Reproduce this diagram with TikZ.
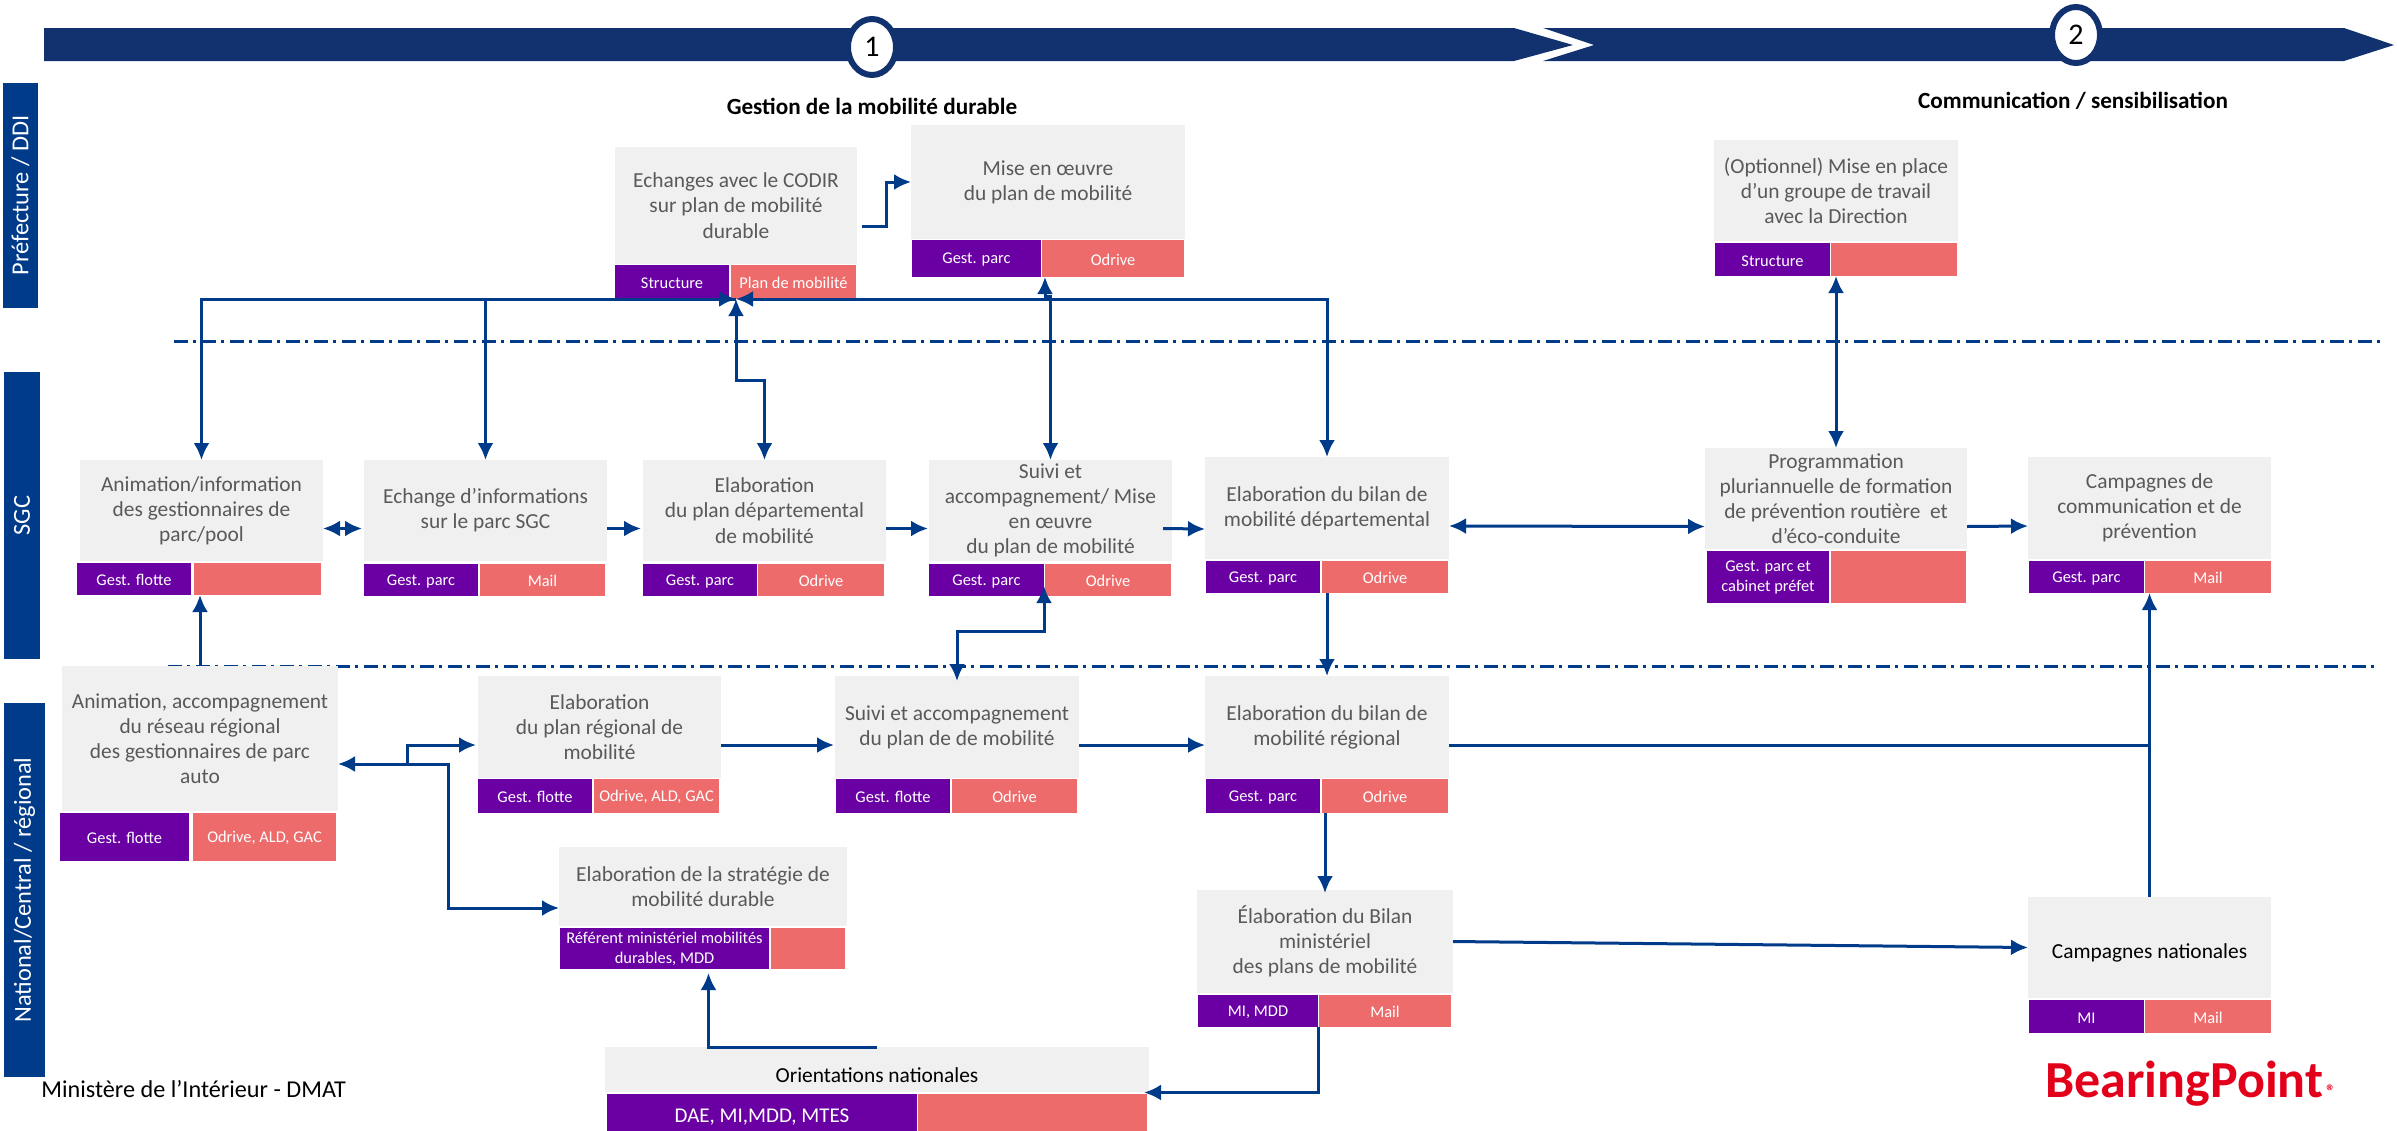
\documentclass[tikz,border=0pt]{standalone}
\usepackage{fontspec}
\setmainfont{Carlito}
\usepackage{xcolor}
\usetikzlibrary{arrows.meta,shapes.geometric}
\definecolor{marine}{HTML}{12326F}
\definecolor{bleulien}{HTML}{003B8A}
\definecolor{grisboite}{HTML}{F0F0F0}
\definecolor{gristexte}{HTML}{595959}
\definecolor{violet}{HTML}{6A00A3}
\definecolor{corail}{HTML}{EE6B6B}
\definecolor{rougelogo}{HTML}{E2001A}
\newcommand{\grandcorps}{\fontsize{10.5}{12.5}\selectfont}
\tikzset{
  taille/.style 2 args={minimum width=#1*0.5pt,minimum height=#2*0.5pt},
  boite/.style={anchor=north west,fill=grisboite,text=gristexte,align=center,inner sep=0,outer sep=0,font=\fontsize{10.7}{12.6}\selectfont,execute at begin node={\rule{0pt}{13pt}}},
  gestion/.style={anchor=north west,fill=violet,text=white,align=center,inner sep=0,outer sep=0,font=\fontsize{8.2}{10}\selectfont,execute at begin node={\rule{0pt}{6.8pt}}},
  outil/.style={gestion,fill=corail},
  colonne/.style={fill=bleulien,text=white,rotate=90,inner sep=0,outer sep=0,font=\fontsize{12.2}{14}\selectfont},
  etape/.style={ellipse,draw=marine,line width=3pt,fill=white,inner sep=0,outer sep=0,font=\fontsize{15}{17}\selectfont},
  titre/.style={font=\fontsize{11.6}{13}\selectfont\bfseries,text=black,inner sep=0},
  lien/.style={line width=1.5pt,bleulien},
  tete/.style={-{Latex[length=8.5pt,width=8pt]}},
  tetes/.style={{Latex[length=8.5pt,width=8pt]}-{Latex[length=8.5pt,width=8pt]}},
  limite/.style={line width=1.5pt,bleulien,dash pattern=on 7pt off 2.5pt on 1.5pt off 3pt}
}
\begin{document}
\begin{tikzpicture}[x=0.5pt,y=-0.5pt]
\useasboundingbox (0,0) rectangle (2397,1130);

% Bandeau
\fill[marine] (44,28) -- (1514,28) -- (1573,45) -- (1514,61) -- (44,61) -- cycle;
\fill[marine] (1543,28) -- (2344,28) -- (2394,45) -- (2344,61) -- (1543,61) -- (1594,45) -- cycle;
\node[etape,taille={48}{56}] (etape1) at (872,47) {1};
\node[etape,taille={48}{56}] (etape2) at (2076,35) {2};
\node[titre] (titre1) at (872,106) {Gestion de la mobilité durable};
\node[titre] (titre2) at (2073,101) {Communication / sensibilisation};

% Colonnes
\node[colonne,taille={225}{35}] (prefecture) at (20.5,195.5) {Préfecture / DDI};
\node[colonne,taille={287}{36}] (sgc) at (22,515.5) {SGC};
\node[colonne,taille={374}{41}] (national) at (24.5,890) {National/Central / régional};

% Limites
\draw[limite] (174,341) -- (2384,341);
\draw[limite] (168,666) -- (2375,666);

% Boites
\node[boite,taille={242}{117}] (echanges) at (615,147) {Echanges avec le CODIR\\sur plan de mobilité\\durable};
\node[boite,taille={274}{114}] (mise) at (911,125) {Mise en œuvre\\du plan de mobilité};
\node[boite,taille={243}{101}] (animinfo) at (80,460) {Animation/information\\des gestionnaires de\\parc/pool};
\node[boite,taille={243}{101}] (echinfo) at (364,460) {Echange d’informations\\sur le parc SGC};
\node[boite,taille={243}{101}] (elabdep) at (643,460) {Elaboration\\du plan départemental\\de mobilité};
\node[boite,taille={243}{101}] (suivi) at (929,460) {Suivi et\\accompagnement/ Mise\\en œuvre\\du plan de mobilité};
\node[boite,taille={244}{102}] (bilandep) at (1205,457) {Elaboration du bilan de\\mobilité départemental};
\node[boite,taille={244}{101}] (opt) at (1714,140) {(Optionnel) Mise en place\\d’un groupe de travail\\avec la Direction};
\node[boite,taille={262}{101}] (prog) at (1705,448) {Programmation\\pluriannuelle de formation\\de prévention routière~ et\\d’éco-conduite};
\node[boite,taille={243}{102}] (campagnes) at (2028,457) {Campagnes de\\communication et de\\prévention};
\node[boite,taille={276}{145}] (anim) at (62,666) {Animation, accompagnement\\du réseau régional\\des gestionnaires de parc\\auto};
\node[boite,taille={243}{102}] (regional) at (478,676) {Elaboration\\du plan régional de\\mobilité};
\node[boite,taille={244}{102}] (suiviacc) at (835,676) {Suivi et accompagnement\\du plan de de mobilité};
\node[boite,taille={288}{79}] (strat) at (559,847) {Elaboration de la stratégie de\\mobilité durable};
\node[boite,taille={544}{45},text=black] (orient) at (605,1047) {Orientations nationales};
\node[boite,taille={244}{102}] (bilanreg) at (1205,676) {Elaboration du bilan de\\mobilité régional};
\node[boite,taille={256}{103}] (bilanmin) at (1197,890) {Élaboration du Bilan\\ministériel\\des plans de mobilité};
\node[boite,taille={243}{101},text=black] (campnat) at (2028,897) {Campagnes nationales};

% Cases gestionnaire
\foreach \nom/\x/\y/\l/\h/\txt in {
  echanges/615/265/114/33.5/Structure,
  mise/912/240/129/37/Gest. parc,
  animinfo/77/563/114/32/Gest. flotte,
  echinfo/364/563.5/114/32.5/Gest. parc,
  elabdep/643/563.5/114/32.5/Gest. parc,
  suivi/929/563.5/115/32.5/Gest. parc,
  bilandep/1206/561/114/32/Gest. parc,
  opt/1715/243/115/33/Structure,
  prog/1707/551/122/52/{Gest. parc et\\cabinet préfet},
  campagnes/2029/561/115/32/Gest. parc,
  anim/60/813/129/48/Gest. flotte,
  regional/478/779/114/34/Gest. flotte,
  suiviacc/836/779/114/34/Gest. flotte,
  strat/560/928/209/41/{Référent ministériel mobilités\\durables, MDD},
  orient/607/1094/310/46/{\grandcorps DAE, MI,MDD, MTES},
  bilanreg/1206/779/114/34/Gest. parc,
  bilanmin/1198/995/120/32/{MI, MDD},
  campnat/2029/1000/115/33/MI}
  \node[gestion,taille={\l}{\h}] (\nom-g) at (\x,\y) {\txt};

% Cases outil
\foreach \nom/\x/\y/\l/\h/\txt in {
  echanges/731/265/125/33.5/Plan de mobilité,
  mise/1042/240/142/37/Odrive,
  animinfo/194/563/127/32/{},
  echinfo/480/563.5/125/32.5/Mail,
  elabdep/758/563.5/126/32.5/Odrive,
  suivi/1045/563.5/126/32.5/Odrive,
  bilandep/1322/561/126/32/Odrive,
  opt/1831/243/126/33/{},
  prog/1831/551/135/52/{},
  campagnes/2145/561/126/32/Mail,
  anim/193/813/143/48/{Odrive, ALD, GAC},
  regional/594/779/125/34/{Odrive, ALD, GAC},
  suiviacc/952/779/125/34/Odrive,
  strat/771/928/74/41/{},
  orient/918/1094/229/46/{},
  bilanreg/1322/779/126/34/Odrive,
  bilanmin/1319/995/132/32/Mail,
  campnat/2145/1000/126/33/Mail}
  \node[outil,taille={\l}{\h}] (\nom-o) at (\x,\y) {\txt};

% Textes libres
\node[anchor=west,inner sep=0,font=\fontsize{12.1}{14}\selectfont] (dmat) at (41,1089) {Ministère de l’Intérieur - DMAT};
\node[anchor=west,inner sep=0,text=rougelogo,font=\fontsize{26}{28}\selectfont\bfseries] (logo) at (2045,1084) {BearingPoint{\fontsize{9}{10}\selectfont\,®}};

% Liens haut
\coordinate (centre) at (736,299);
\draw[lien,tete] ([shift={(5,21)}]echanges.east) -- ++(24,0) |- (mise.west);
\draw[lien,tetes] (animinfo.north) |- (centre);
\draw[lien,tete] (centre) -| (echinfo.north);
\draw[lien,tetes] (elabdep.north) -- ++(0,-80) -| (centre);
\draw[lien,tetes] (bilandep.north) |- (centre);
\draw[lien,tetes] (suivi.north) -- ++(0,-164) -| ([shift={(3,0)}]mise-o.south west);
\draw[lien,tetes] (prog.north) -- (prog.north |- opt-o.south);

% Liens SGC
\draw[lien,tetes] ([shift={(0,18)}]animinfo.east) -- ([shift={(-2,18)}]echinfo.west);
\draw[lien,tete] ([shift={(0,18)}]echinfo.east) -- ([shift={(-2,18)}]elabdep.west);
\draw[lien,tete] ([shift={(0,18)}]elabdep.east) -- ([shift={(-1,18)}]suivi.west);
\draw[lien,tete] ([shift={(-9,18)}]suivi.east) -- ([shift={(0,21)}]bilandep.west);
\draw[lien,tetes] ([shift={(0,18)}]bilandep.east) -- ([shift={(0,28)}]prog.west);
\draw[lien,tete] ([shift={(0,28)}]prog.east) -- ([shift={(0,18)}]campagnes.west);

% Liens national
\coordinate (carrefour) at (448,764);
\coordinate (branche) at (407,764);
\draw[lien,tete] (anim.north) -- (anim.north |- animinfo-g.south);
\draw[lien,tetes] ([shift={(-1,-10)}]suivi-o.south west) -- ++(0,45) -| ([shift={(0,5)}]suiviacc.north);
\draw[lien,tete] (bilanreg.north |- bilandep-g.south) -- (bilanreg.north);
\draw[lien,tetes] (carrefour -| anim.east) -- (carrefour) |- ([shift={(0,21.5)}]strat.west);
\draw[lien,tete] (branche) |- ([shift={(-2,18)}]regional.west);
\draw[lien,tete] ([shift={(0,18)}]regional.east) -- ([shift={(-1,18)}]suiviacc.west);
\draw[lien,tete] ([shift={(0,18)}]suiviacc.east) -- ([shift={(0,18)}]bilanreg.west);
\draw[lien] ([shift={(0,18)}]bilanreg.east) -| (campnat.north);
\draw[lien,tete] (campnat.north) -- (campnat.north |- campagnes-g.south);
\draw[lien,tete] (bilanreg-g.south east -| bilanmin.north) -- ([shift={(0,3)}]bilanmin.north);
\draw[lien,tete] (bilanmin.east) -- (campnat.west);
\draw[lien,tete] (bilanmin-g.south east) |- ([shift={(-5,23)}]orient.east);
\draw[lien,tete] (orient.north) -| ([shift={(44,4)}]strat-g.south);

\end{tikzpicture}
\end{document}
